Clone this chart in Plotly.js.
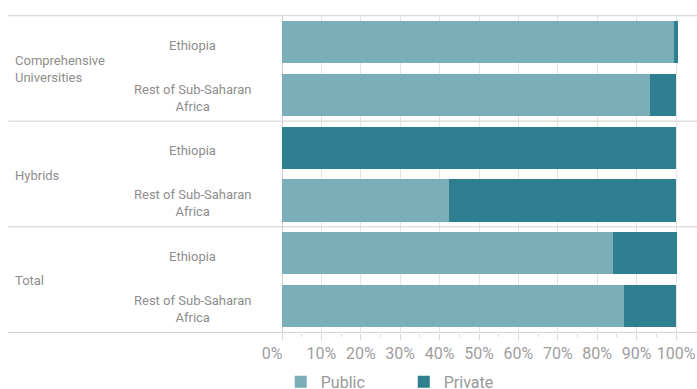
<!DOCTYPE html>
<html>
<head>
<meta charset="utf-8">
<script src="https://cdn.plot.ly/plotly-3.0.1.min.js"></script>
<style>html,body{margin:0;padding:0;background:#fff;}#chart{width:697px;height:389px;}</style>
</head>
<body>
<div id="chart"></div>
<script>
const groups = ['Comprehensive<br>Universities', 'Hybrids', 'Total'];
const subs = ['Ethiopia', 'Rest of Sub-Saharan<br>Africa'];
const publicVals = [99.5, 93.4, 0, 42.4, 84.0, 86.8];
const privateVals = [1.0, 6.6, 100, 57.6, 16.2, 13.2];
const xTicks = [0, 10, 20, 30, 40, 50, 60, 70, 80, 90, 100];
const seriesNames = ['Public', 'Private'];

const keys = [];
groups.forEach(g => subs.forEach(s => keys.push(g + '|' + s)));

const traces = [
  {type: 'bar', orientation: 'h', name: seriesNames[0], y: keys, x: publicVals,
   marker: {color: '#7aafb9'}, hoverinfo: 'skip'},
  {type: 'bar', orientation: 'h', name: seriesNames[1], y: keys, x: privateVals,
   marker: {color: '#2e7f8f'}, hoverinfo: 'skip'}
];

const annotations = [];
const shapes = [];
const lineColor = '#d9d9d9';
keys.forEach((k, i) => {
  const sub = subs[i % subs.length];
  annotations.push({xref: 'paper', yref: 'y', x: -0.2145, y: k, yshift: -3, text: sub, showarrow: false,
    xanchor: 'center', yanchor: 'middle', align: 'center',
    font: {family: 'Roboto', size: 13, color: '#8e8e8e'}});
});
groups.forEach((g, gi) => {
  const start = gi * subs.length;
  const mid = start + (subs.length - 1) / 2;
  annotations.push({xref: 'paper', yref: 'y', x: -0.648, y: mid, yshift: -1, text: g, showarrow: false,
    xanchor: 'left', yanchor: 'middle', align: 'left',
    font: {family: 'Roboto', size: 13, color: '#8e8e8e'}});
});
for (let gi = 0; gi <= groups.length; gi++) {
  const yb = gi * subs.length - 0.5;
  shapes.push({type: 'line', xref: 'paper', yref: 'y', x0: -0.66, x1: 1, y0: yb, y1: yb,
    line: {color: lineColor, width: 1.3}, layer: 'above'});
}

const NB = '\u00A0';
const tickText = xTicks.map(v => v === 0 ? v + '%' + NB.repeat(5) : v + '%');

const layout = {
  width: 697, height: 389,
  margin: {l: 282, r: 0, t: 15, b: 56, pad: 0, autoexpand: false},
  barmode: 'stack',
  bargap: 0.2,
  paper_bgcolor: '#fff', plot_bgcolor: '#fff',
  font: {family: 'Roboto', color: '#999'},
  showlegend: true,
  legend: {orientation: 'h', x: -0.003, xanchor: 'left', y: -0.1, yanchor: 'top',
    font: {family: 'Roboto', size: 16, color: '#999'}, entrywidth: 78, entrywidthmode: 'pixels',
    traceorder: 'normal'},
  xaxis: {
    range: [0, 105.33], tickmode: 'array', tickvals: xTicks, ticktext: tickText,
    showgrid: true, gridcolor: '#e3e3e3', gridwidth: 1,
    zeroline: true, zerolinecolor: '#cfcfcf', zerolinewidth: 1,
    ticks: 'outside', ticklen: 6, tickcolor: '#d9d9d9', tickwidth: 1,
    minor: {tickmode: 'array', tickvals: [5, 15, 25, 35, 45, 55, 65, 75, 85, 95], ticks: 'outside', ticklen: 3, tickcolor: '#d9d9d9', showgrid: false},
    tickfont: {family: 'Roboto', size: 16, color: '#9e9e9e'},
    showline: false, fixedrange: true, automargin: false
  },
  yaxis: {
    type: 'category', autorange: 'reversed', showticklabels: false, showgrid: false,
    zeroline: false, showline: false, ticks: '', fixedrange: true
  },
  annotations: annotations,
  shapes: shapes
};

Plotly.newPlot('chart', traces, layout, {displayModeBar: false, staticPlot: true});
</script>
</body>
</html>
